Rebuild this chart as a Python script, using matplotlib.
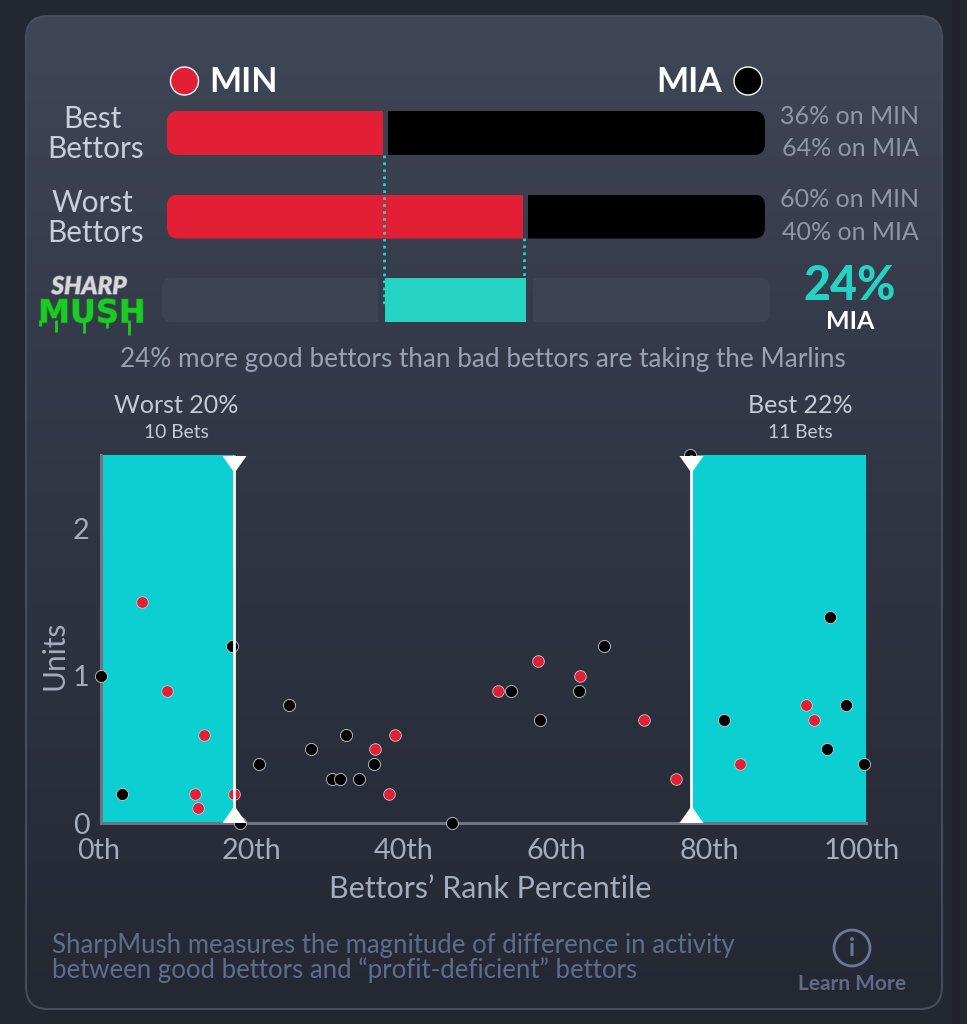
import numpy as np
import matplotlib
matplotlib.use("Agg")
import matplotlib.pyplot as plt
from matplotlib.patches import FancyBboxPatch, Rectangle, Circle
from matplotlib.path import Path
from matplotlib.colors import LinearSegmentedColormap
from matplotlib.transforms import ScaledTranslation
import matplotlib.patheffects as pe

plt.rcParams['font.family'] = ['Lato', 'DejaVu Sans']

#share of bettors on MIN, the MIA part is the rest of the bar
group_names = ["Best", "Worst"]
min_share = [36.5, 60.0]
share_labels = [["36% on MIN", "64% on MIA"], ["60% on MIN", "40% on MIA"]]

#scatter points, percentile rank and units
min_rank = [5.4, 8.7, 13.5, 12.4, 12.7, 17.5, 35.9, 38.6, 37.8, 52.0, 57.3, 62.8, 71.2, 75.4, 83.8, 92.4, 93.4]
min_units = [1.5, 0.9, 0.6, 0.2, 0.1, 0.2, 0.5, 0.6, 0.2, 0.9, 1.1, 1.0, 0.7, 0.3, 0.4, 0.8, 0.7]
mia_rank = [0, 2.8, 17.2, 18.2, 20.7, 24.7, 27.5, 30.3, 31.4, 32.2, 33.8, 35.8, 46.0, 77.2, 53.8, 57.5, 62.7, 66.0, 81.6, 95.5, 97.7, 95.2, 100]
mia_units = [1.0, 0.2, 1.2, 0, 0.4, 0.8, 0.5, 0.3, 0.3, 0.6, 0.3, 0.4, 0, 2.5, 0.9, 0.7, 0.9, 1.2, 0.7, 1.4, 0.8, 0.5, 0.4]

#where the shaded zones stop
worst_cut = 17.4
best_cut = 77.3

x_ticks = [0, 20, 40, 60, 80, 100]
x_tick_labels = ["0th", "20th", "40th", "60th", "80th", "100th"]
y_ticks = [0, 1, 2]

RED = "#e31f36"
TEAL = "#25d3c3"
ZONE = "#0ccfd2"

W, H = 967, 1024
fig = plt.figure(figsize=(W / 100, H / 100), dpi=100, facecolor="#232732")


#axes placed by pixel box, y counted from the top of the picture
def pixel_axes(x0, y0, x1, y1, **kw):
    return fig.add_axes([x0 / W, 1 - y1 / H, (x1 - x0) / W, (y1 - y0) / H], **kw)


bg = pixel_axes(0, 0, W, H)
bg.set_xlim(0, W)
bg.set_ylim(H, 0)
bg.axis("off")

#card with the vertical gradient
card = FancyBboxPatch((26, 16), 916, 993, boxstyle="round,pad=0,rounding_size=22",
                      facecolor="none", edgecolor="#474d5d", lw=1.5, zorder=3)
bg.add_patch(card)
cmap = LinearSegmentedColormap.from_list("card", ["#3f4656", "#343a49", "#2c313e", "#242833"])
grad = bg.imshow(np.linspace(0, 1, 256).reshape(-1, 1), cmap=cmap, aspect="auto",
                 extent=(26, 942, 1009, 16), zorder=1)
grad.set_clip_path(card)
bg.set_xlim(0, W)
bg.set_ylim(H, 0)
bg.add_patch(Rectangle((952, 0), 8, H, facecolor="#1e212b", edgecolor="none", zorder=1))


def txt(x, y, s, size, color, weight="normal", ha="center", **kw):
    return bg.text(x, y + 1.5, s, fontsize=size, color=color, fontweight=weight, ha=ha, va="center", zorder=6, **kw)


#team header
bg.add_patch(Circle((184.5, 81), 14, facecolor=RED, edgecolor="white", lw=1, zorder=5))
bg.add_patch(Circle((748, 81), 14, facecolor="black", edgecolor="white", lw=1, zorder=5))
txt(209, 81, "MIN", 24.5, "white", "bold", ha="left")
txt(722, 81, "MIA", 24.5, "white", "bold", ha="right")

#share bars, one axes with percent on x and picture pixels on y
bars = pixel_axes(167, 100, 765, 330)
bars.set_xlim(0, 100)
bars.set_ylim(330, 100)
bars.axis("off")
bars.patch.set_alpha(0)
bar_y = [133, 216.5]
label_y = [(117, 147), (201, 231)]
text_y = [(115, 147), (198, 231)]
for i in range(2):
    clip = FancyBboxPatch((167, bar_y[i] - 22), 598, 44, boxstyle="round,pad=0,rounding_size=11",
                          facecolor="none", edgecolor="none")
    bg.add_patch(clip)
    left = bars.barh(bar_y[i], min_share[i] - 0.4, height=44, color=RED, zorder=3)[0]
    right = bars.barh(bar_y[i], 100 - min_share[i] - 0.4, left=min_share[i] + 0.4, height=44, color="black", zorder=3)[0]
    left.set_clip_path(clip)
    right.set_clip_path(clip)
    txt(92, label_y[i][0], group_names[i], 21.3, "#c9cedb")
    txt(96, label_y[i][1], "Bettors", 21.3, "#c9cedb")
    txt(850, text_y[i][0], share_labels[i][0], 18, "#8f98a9")
    txt(850, text_y[i][1], share_labels[i][1], 18, "#8f98a9")

#sharp mush bar, rounded only on the outer corners, and the dotted guides
panel = FancyBboxPatch((162, 278), 608, 44, boxstyle="round,pad=0,rounding_size=9", facecolor="none", edgecolor="none")
bg.add_patch(panel)
for x0, x1 in [(162, 378), (533, 770)]:
    seg = Rectangle((x0, 278), x1 - x0, 44, facecolor="#3c4352", edgecolor="none", zorder=2)
    bg.add_patch(seg)
    seg.set_clip_path(panel)
bars.barh(300, min_share[1] - min_share[0], left=min_share[0], height=44, color=TEAL, zorder=3)
bars.plot([min_share[0] - 0.25] * 2, [155, 305], color=TEAL, lw=2, ls=(0, (1, 1.5)), zorder=4)
bars.plot([min_share[1] - 0.25] * 2, [238, 278], color=TEAL, lw=2, ls=(0, (1, 1.5)), zorder=4)
txt(850, 284, "24%", 33.5, TEAL, "black")
txt(850, 320, "MIA", 18, "white", "bold")
txt(483, 358, "24% more good bettors than bad bettors are taking the Marlins", 18.8, "#98a2b5")

#logo
txt(89, 285, "SHARP", 17.5, "#d6d8dc", "black", style="italic",
    path_effects=[pe.withStroke(linewidth=1, foreground="#8c8f94")])
bg.text(92, 314, "MUSH", fontsize=23, color="#1fc927", fontweight="bold", family="DejaVu Sans",
        ha="center", va="center", zorder=6, path_effects=[pe.withStroke(linewidth=1, foreground="#0e8f14")])
bg.vlines([40, 56, 84, 107, 129], 320, [326, 332, 333, 328, 335], color="#1fc927", lw=2, zorder=6)

#scatter
ax = pixel_axes(100.7, 455, 866, 823)
ax.patch.set_alpha(0)
ax.set_xlim(0, 100.26)
ax.set_ylim(0, 2.5)
ax.axvspan(0, worst_cut, color=ZONE, lw=0, zorder=1)
ax.axvspan(best_cut, 100.26, color=ZONE, lw=0, zorder=1)
ax.scatter(min_rank, min_units, s=70, c=RED, edgecolors="#c3ccd2", linewidths=0.6, clip_on=False, zorder=4)
ax.scatter(mia_rank, mia_units, s=76, c="black", edgecolors="#c3ccd2", linewidths=0.6, clip_on=False, zorder=4)
ax.vlines([worst_cut, best_cut], 0, 2.5, color="white", lw=2, zorder=5)
down = Path([(-12, 8.5), (12, 8.5), (0, -8.5), (-12, 8.5)], closed=True)
up = Path([(-12, -8.5), (12, -8.5), (0, 8.5), (-12, -8.5)], closed=True)
ax.plot([worst_cut, best_cut], [2.442, 2.442], ls="none", marker=down, ms=17.3, color="white", mew=0, clip_on=False, zorder=6)
ax.plot([worst_cut, best_cut], [0.058, 0.058], ls="none", marker=up, ms=17.3, color="white", mew=0, clip_on=False, zorder=6)

for side in ["top", "right"]:
    ax.spines[side].set_visible(False)
for side in ["left", "bottom"]:
    ax.spines[side].set_color("#6f7480")
    ax.spines[side].set_linewidth(2.2)
    ax.spines[side].set_zorder(3)
ax.set_xticks(x_ticks)
ax.set_xticklabels(x_tick_labels)
ax.set_yticks(y_ticks)
ax.tick_params(length=0, labelsize=20.7, labelcolor="#a3adbf", pad=11)
ax.tick_params(axis="y", pad=8)
for lab in ax.get_xticklabels():
    lab.set_transform(lab.get_transform() + ScaledTranslation(-2 / 100, 0, fig.dpi_scale_trans))

txt(176, 404, "Worst 20%", 18, "#c5cad4")
txt(176, 431, "10 Bets", 13.9, "#c5cad4")
txt(800, 404, "Best 22%", 18, "#c5cad4")
txt(800, 431, "11 Bets", 13.9, "#c5cad4")
txt(54, 654, "Units", 21.5, "#a3adbf", rotation=90)
txt(490, 887, "Bettors\u2019 Rank Percentile", 22, "#a3adbf")

#footer
txt(52, 944, "SharpMush measures the magnitude of difference in activity", 18.5, "#5f6d8c", ha="left")
txt(52, 969, "between good bettors and \u201cprofit-deficient\u201d bettors", 18.5, "#5f6d8c", ha="left")
bg.add_patch(Circle((852, 948), 18, facecolor="none", edgecolor="#69779a", lw=2, zorder=5))
txt(852, 947, "i", 17, "#69779a", "bold")
txt(852, 982, "Learn More", 15, "#5f6b85", "bold")

fig.savefig("out.png", dpi=100, facecolor=fig.get_facecolor())
